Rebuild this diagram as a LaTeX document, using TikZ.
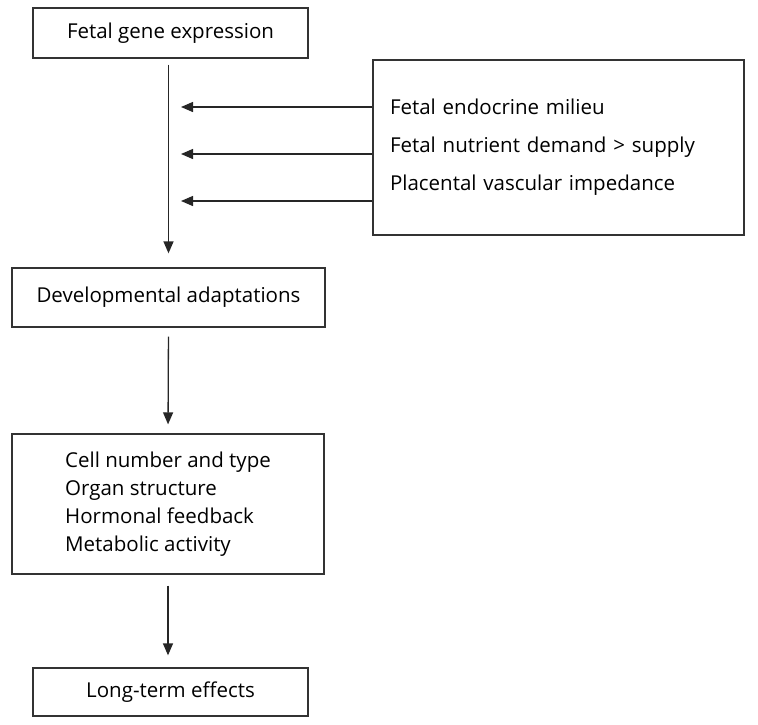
\documentclass[tikz,border=0pt]{standalone}
\usepackage{fontspec}
\setmainfont{Open Sans}
\usetikzlibrary{arrows.meta}

\tikzset{
  box/.style={draw=black!80, line width=1.3pt, rectangle, inner sep=0pt,
    font=\fontsize{20.5}{24}\selectfont},
  flow arrow/.style={line width=1.3pt, draw=black!85,
    -{Triangle[length=12pt,width=10pt]}}
}

\begin{document}
\begin{tikzpicture}[x=1pt, y=-1pt]
  \useasboundingbox (0,0) rectangle (758,724);

  % main chain
  \node[box, minimum width=275, minimum height=50] (gene) at (170.5,33) {Fetal gene expression};
  \node[box, minimum width=313, minimum height=59] (adapt) at (168.5,297.5) {Developmental adaptations};
  \node[box, minimum width=312, minimum height=140, align=left,
        font=\fontsize{20.5}{28}\selectfont] (traits) at (168,504)
        {Cell number and type\\Organ structure\\Hormonal feedback\\Metabolic activity};
  \node[box, minimum width=275, minimum height=48] (effects) at (170.5,692) {Long-term effects};

  % influences
  \node[box, minimum width=371, minimum height=175, text width=337, align=left,
        font=\fontsize{20.5}{38}\selectfont] (factors) at (558.5,147.5)
        {Fetal endocrine milieu\\Fetal nutrient demand > supply\\Placental vascular impedance};
  \coordinate (in1) at (181,107);
  \coordinate (in2) at (181,154);
  \coordinate (in3) at (181,201);

  \draw[flow arrow, shorten <=6pt, shorten >=14pt] (gene.south -| adapt.north) -- (adapt.north);
  \draw[flow arrow, shorten <=9pt, shorten >=9pt] (adapt.south) -- (traits.north);
  \draw[flow arrow, shorten <=11pt, shorten >=12pt] (traits.south) -- (traits.south |- effects.north);

  \draw[flow arrow] (factors.west |- in1) -- (in1);
  \draw[flow arrow] (factors.west |- in2) -- (in2);
  \draw[flow arrow] (factors.west |- in3) -- (in3);
\end{tikzpicture}
\end{document}
